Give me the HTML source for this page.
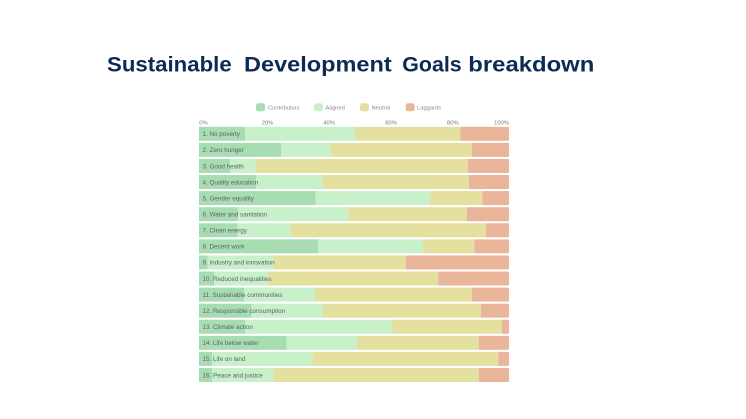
<!DOCTYPE html>
<html><head><meta charset="utf-8"><style>
html,body{margin:0;padding:0;background:#fff;}
svg{display:block;}
text{font-family:"Liberation Sans",Arial,sans-serif;}
</style></head><body>
<svg width="746" height="419" viewBox="0 0 746 419" xmlns="http://www.w3.org/2000/svg">
<rect width="746" height="419" fill="#fff"/>
<g fill="#0b2a56" font-weight="bold" font-size="21">
<text x="107" y="71.7" textLength="124.7" lengthAdjust="spacingAndGlyphs">Sustainable</text>
<text x="244" y="71.7" textLength="147.7" lengthAdjust="spacingAndGlyphs">Development</text>
<text x="402.3" y="71.7" textLength="59.4" lengthAdjust="spacingAndGlyphs">Goals</text>
<text x="468.3" y="71.7" textLength="126" lengthAdjust="spacingAndGlyphs">breakdown</text>
</g>
<g font-size="5.8" fill="#8a8a8a">
<rect x="256" y="103.3" width="9" height="8" rx="2.5" fill="#a8dcb3"/><text x="268" y="109.5">Contributors</text>
<rect x="314" y="103.3" width="9" height="8" rx="2.5" fill="#c8f0cb"/><text x="325.5" y="109.5">Aligned</text>
<rect x="360" y="103.3" width="9" height="8" rx="2.5" fill="#e3e0a0"/><text x="371.5" y="109.5">Neutral</text>
<rect x="405.7" y="103.3" width="9" height="8" rx="2.5" fill="#e9b69c"/><text x="417" y="109.5">Laggards</text>
</g>
<g font-size="5.8" fill="#7a7a7a">
<text x="199.3" y="124.5">0%</text>
<text x="261.7" y="124.5">20%</text>
<text x="323.3" y="124.5">40%</text>
<text x="385.2" y="124.5">60%</text>
<text x="447" y="124.5">80%</text>
<text x="509" y="124.5" text-anchor="end">100%</text>
</g>
<g id="bars"></g>
<g font-size="6.3" fill="#5c665c" id="labels"></g>
<script>
var rows=[
["1. No poverty",245.3,354.7,460.3],
["2. Zero hunger",281,331,472],
["3. Good health",230,255.7,467.7],
["4. Quality education",256,322.7,469],
["5. Gender equality",315.7,429.7,482.3],
["6. Water and sanitation",237.7,348.3,467],
["7. Clean energy",237.7,290.7,486],
["8. Decent work",318.3,422.7,474.3],
["9. Industry and innovation",207.7,273.7,405.7],
["10. Reduced inequalities",214.3,267.7,438.3],
["11. Sustainable communities",244.3,315,472],
["12. Responsible consumption",251.7,322.3,481],
["13. Climate action",245,391.7,501.7],
["14. Life below water",286.7,357,478.7],
["15. Life on land",212.3,312.3,498.3],
["16. Peace and justice",212.3,273.7,478.7]];
var NS="http://www.w3.org/2000/svg";
var bars=document.getElementById("bars"),labels=document.getElementById("labels");
var cols=["#a8dcb3","#c8f0cb","#e3e0a0","#e9b69c"];
rows.forEach(function(r,i){
 var y=126.8+i*16.08;
 var xs=[199,r[1],r[2],r[3],509];
 for(var k=0;k<4;k++){
  var rc=document.createElementNS(NS,"rect");
  rc.setAttribute("x",xs[k]);rc.setAttribute("y",y);
  rc.setAttribute("width",xs[k+1]-xs[k]);rc.setAttribute("height",14);
  rc.setAttribute("fill",cols[k]);bars.appendChild(rc);
 }
 var t=document.createElementNS(NS,"text");
 t.setAttribute("x",202.5);t.setAttribute("y",y+9.3);
 t.textContent=r[0];labels.appendChild(t);
});
</script>
</svg>
</body></html>
